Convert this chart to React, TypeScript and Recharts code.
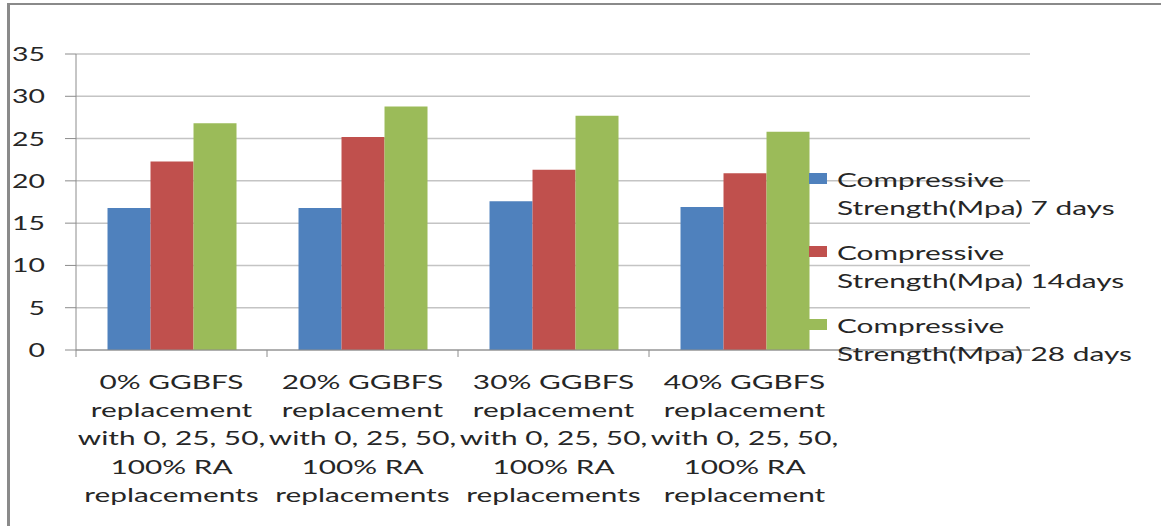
import { BarChart, Bar, XAxis, YAxis, CartesianGrid, Legend } from "recharts";

const categories = [
  "0% GGBFS\nreplacement\nwith 0, 25, 50,\n100% RA\nreplacements",
  "20% GGBFS\nreplacement\nwith 0, 25, 50,\n100% RA\nreplacements",
  "30% GGBFS\nreplacement\nwith 0, 25, 50,\n100% RA\nreplacements",
  "40% GGBFS\nreplacement\nwith 0, 25, 50,\n100% RA\nreplacement",
];
const days7 = [16.8, 16.8, 17.6, 16.9];
const days14 = [22.3, 25.2, 21.3, 20.9];
const days28 = [26.8, 28.8, 27.7, 25.8];
const seriesNames = [
  "Compressive Strength(Mpa) 7 days",
  "Compressive Strength(Mpa) 14days",
  "Compressive Strength(Mpa) 28 days",
];
const yTicks = [0, 5, 10, 15, 20, 25, 30, 35];

const data = categories.map((c, i) => ({
  cat: c,
  d7: days7[i],
  d14: days14[i],
  d28: days28[i],
}));

const FONT = "Lato, 'Open Sans', sans-serif";
const TEXT = "#262626";
const STRETCH_Y = 1.42;
const STRETCH = 1.49;

function XTick(props: any) {
  const { x, y, payload, index, visibleTicksCount } = props;
  const half = payload.offset || 0;
  const lines = String(payload.value).split("\n");
  const last = index === visibleTicksCount - 1;
  return (
    <g>
      <line x1={x - half} x2={x - half} y1={y} y2={y + 7} stroke="#8c8c8c" />
      {last && <line x1={x + half} x2={x + half} y1={y} y2={y + 7} stroke="#8c8c8c" />}
      <g transform={`translate(${x},${y}) scale(${STRETCH},1)`}>
        {lines.map((l, i) => (
          <text
            key={i}
            x={0}
            y={32 + i * 28.2}
            dy="0.35em"
            textAnchor="middle"
            fontFamily={FONT}
            fontSize={20}
            fill={TEXT}
          >
            {l}
          </text>
        ))}
      </g>
    </g>
  );
}

function YTick(props: any) {
  const { x, y, payload } = props;
  return (
    <g transform={`translate(${x},${y}) scale(${STRETCH_Y},1)`}>
      <text x={0} y={0} dy="0.35em" textAnchor="end" fontFamily={FONT} fontSize={20} fill={TEXT}>
        {payload.value}
      </text>
    </g>
  );
}

function LegendBox(props: any) {
  const items = [...(props.payload || [])].sort(
    (a: any, b: any) => seriesNames.indexOf(a.value) - seriesNames.indexOf(b.value)
  );
  return (
    <div style={{ fontFamily: FONT, fontSize: 20, color: TEXT }}>
      {items.map((p: any) => {
        const name = String(p.value);
        const cut = name.indexOf(" ");
        return (
          <div key={name} style={{ display: "flex", alignItems: "flex-start", height: 73 }}>
            <div style={{ width: 18, height: 11, background: p.color, marginTop: 8 }} />
            <div
              style={{
                marginLeft: 10,
                lineHeight: "28px",
                whiteSpace: "nowrap",
                transform: `scaleX(${STRETCH})`,
                transformOrigin: "left top",
              }}
            >
              <div>{name.slice(0, cut)}</div>
              <div>{name.slice(cut + 1)}</div>
            </div>
          </div>
        );
      })}
    </div>
  );
}

export default function App() {
  return (
    <div style={{ position: "absolute", left: 0, top: 0, width: 1161, height: 526, background: "#fff" }}>
      <div
        style={{
          position: "absolute",
          left: 7,
          top: 3,
          width: 1154,
          height: 521,
          borderTop: "2px solid #8a8a8a",
          borderLeft: "3px solid #8a8a8a",
          borderBottom: "1px solid #eeeeee",
        }}
      />
      <div style={{ position: "absolute", left: 0, top: 0 }}>
        <BarChart
          width={1161}
          height={526}
          data={data}
          margin={{ top: 54, right: 131, bottom: 26, left: 16 }}
          barCategoryGap="16.5%"
          barGap={0}
        >
          <CartesianGrid horizontal vertical={false} stroke="#c4c4c4" strokeWidth={1.5} />
          <XAxis
            dataKey="cat"
            height={150}
            padding={{ left: 0, right: 190 }}
            axisLine={{ stroke: "#8c8c8c" }}
            tickLine={false}
            tickSize={0}
            tickMargin={0}
            interval={0}
            tick={<XTick />}
          />
          <YAxis
            width={60}
            domain={[0, 35]}
            ticks={yTicks}
            interval={0}
            axisLine={{ stroke: "#8c8c8c" }}
            tickLine={{ stroke: "#8c8c8c" }}
            tickSize={11}
            tickMargin={20}
            tick={<YTick />}
          />
          <Legend
            layout="vertical"
            align="center"
            verticalAlign="middle"
            wrapperStyle={{ left: 809, top: 165, width: 350 }}
            content={<LegendBox />}
          />
          <Bar dataKey="d7" name={seriesNames[0]} fill="#4f81bd" isAnimationActive={false} />
          <Bar dataKey="d14" name={seriesNames[1]} fill="#c0504d" isAnimationActive={false} />
          <Bar dataKey="d28" name={seriesNames[2]} fill="#9bbb59" isAnimationActive={false} />
        </BarChart>
      </div>
    </div>
  );
}
